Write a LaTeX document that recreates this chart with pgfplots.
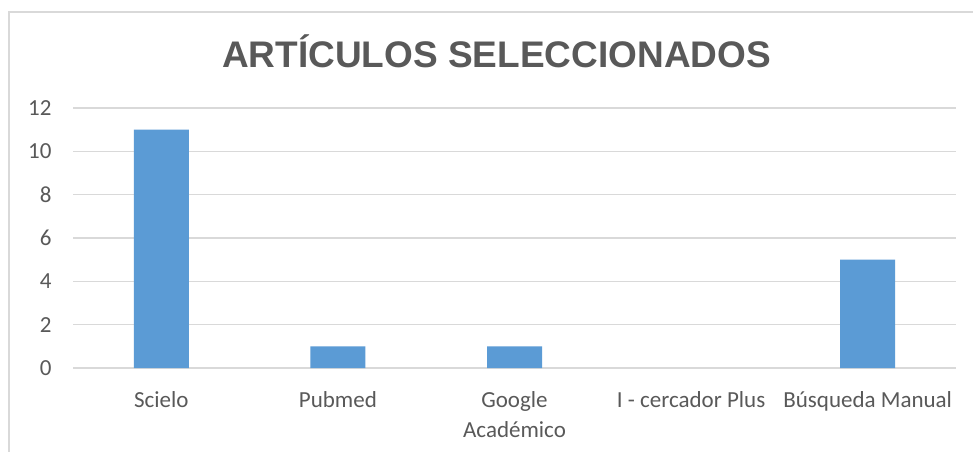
\documentclass[border=0pt]{standalone}
\usepackage{pgfplots}
\pgfplotsset{compat=1.18}
\usepackage{fontspec}
\setmainfont{Carlito}
\newfontfamily\titlefont{Liberation Sans}
\definecolor{barblue}{HTML}{5B9BD5}
\definecolor{txtgray}{HTML}{595959}
\definecolor{gridgray}{HTML}{D9D9D9}
\begin{document}
\begin{tikzpicture}[x=1bp,y=1bp]
\useasboundingbox (0,0) rectangle (973,-452);
\fill[white] (0,0) rectangle (973,-452);
\draw[gridgray, line width=1.2bp] (9,-470) -- (9,-12) -- (990,-12);
\node[anchor=base, text=txtgray, font=\titlefont\bfseries\fontsize{37bp}{44bp}\selectfont] at (496.5,-68) {ARTÍCULOS SELECCIONADOS};
\begin{axis}[
  at={(73bp,-368bp)}, anchor=south west,
  scale only axis, width=883bp, height=260bp,
  xmin=-0.5, xmax=4.5, ymin=0, ymax=12,
  ytick={0,2,4,6,8,10,12},
  xtick={0,1,2,3,4},
  xticklabels={Scielo, Pubmed, {Google\\Académico}, {I - cercador Plus}, {Búsqueda Manual}},
  ymajorgrids, grid style={gridgray, line width=1.2bp},
  axis x line*=bottom, axis y line*=left,
  x axis line style={gridgray, line width=1.2bp, -},
  y axis line style={draw=none},
  major tick length=0pt,
  tick label style={text=txtgray, font=\fontsize{23bp}{30bp}\selectfont},
  xticklabel style={align=center, yshift=-20bp},
  yticklabel style={/pgf/number format/assume math mode=true, xshift=-18bp},
  ytick style={draw=none}, xtick style={draw=none},
  ybar, bar width=55bp,
  clip=false,
]
\addplot[fill=barblue, draw=none] coordinates {(0,11) (1,1) (2,1) (4,5)};
\end{axis}
\end{tikzpicture}
\end{document}
